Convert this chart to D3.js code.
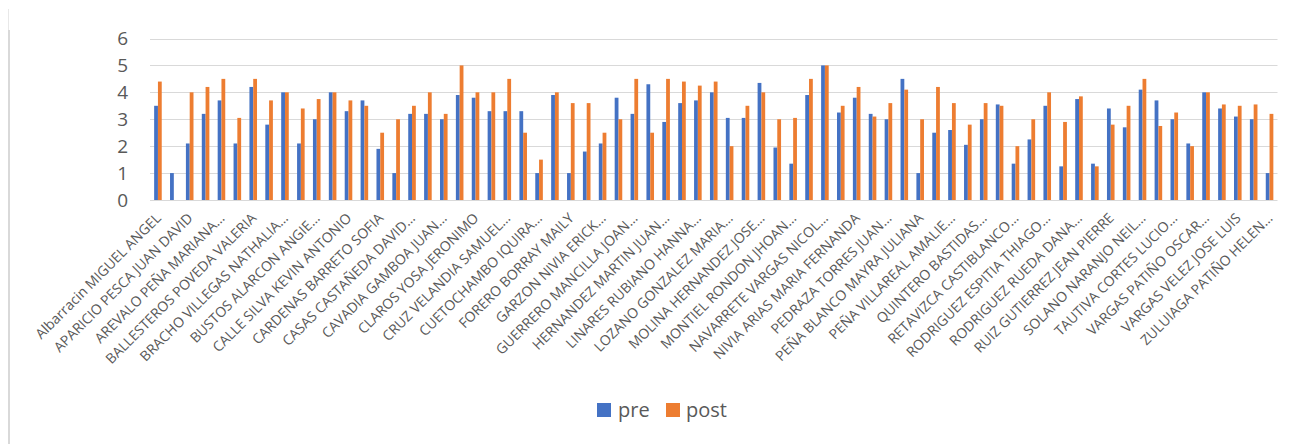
<!DOCTYPE html>
<html>
<head>
<meta charset="utf-8">
<script src="https://cdn.jsdelivr.net/npm/d3@7"></script>
<style>
  body { margin: 0; background: #fff; }
  text { font-family: "Open Sans", sans-serif; fill: #595959; }
</style>
</head>
<body>
<svg id="chart" width="1310" height="444"></svg>
<script>
// Student names shown on the axis (every other category carries a label)
const labels = [
  "Albarracin MIGUEL ANGEL", "APARICIO PESCA JUAN DAVID", "AREVALO PEÑA MARIANA…",
  "BALLESTEROS POVEDA VALERIA", "BRACHO VILLEGAS NATHALIA…", "BUSTOS ALARCON ANGIE…",
  "CALLE SILVA KEVIN ANTONIO", "CARDENAS BARRETO SOFIA", "CASAS CASTAÑEDA DAVID…",
  "CAVADIA GAMBOA JUAN…", "CLAROS YOSA JERONIMO", "CRUZ VELANDIA SAMUEL…",
  "CUETOCHAMBO IQUIRA…", "FORERO BORRAY MAILY", "GARZON NIVIA ERICK…",
  "GUERRERO MANCILLA JOAN…", "HERNANDEZ MARTIN JUAN…", "LINARES RUBIANO HANNA…",
  "LOZANO GONZALEZ MARIA…", "MOLINA HERNANDEZ JOSE…", "MONTIEL RONDON JHOAN…",
  "NAVARRETE VARGAS NICOL…", "NIVIA ARIAS MARIA FERNANDA", "PEDRAZA TORRES JUAN…",
  "PEÑA BLANCO MAYRA JULIANA", "PEÑA VILLAREAL AMALIE…", "QUINTERO BASTIDAS…",
  "RETAVIZCA CASTIBLANCO…", "RODRIGUEZ ESPITIA THIAGO…", "RODRIGUEZ RUEDA DANA…",
  "RUIZ GUTIERREZ JEAN PIERRE", "SOLANO NARANJO NEIL…", "TAUTIVA CORTES LUCIO…",
  "VARGAS PATIÑO OSCAR…", "VARGAS VELEZ JOSE LUIS", "ZULUIAGA PATIÑO HELEN…"
];

// Scores per student, in axis order (71 students)
const pre = [
  3.5, 1.0, 2.1, 3.2, 3.7, 2.1, 4.2, 2.8, 4.0, 2.1,
  3.0, 4.0, 3.3, 3.7, 1.9, 1.0, 3.2, 3.2, 3.0, 3.9,
  3.8, 3.3, 3.3, 3.3, 1.0, 3.9, 1.0, 1.8, 2.1, 3.8,
  3.2, 4.3, 2.9, 3.6, 3.7, 4.0, 3.05, 3.05, 4.35, 1.95,
  1.35, 3.9, 5.0, 3.25, 3.8, 3.2, 3.0, 4.5, 1.0, 2.5,
  2.6, 2.05, 3.0, 3.55, 1.35, 2.25, 3.5, 1.25, 3.75, 1.35,
  3.4, 2.7, 4.1, 3.7, 3.0, 2.1, 4.0, 3.4, 3.1, 3.0,
  1.0
];
const post = [
  4.4, 0, 4.0, 4.2, 4.5, 3.05, 4.5, 3.7, 4.0, 3.4,
  3.75, 4.0, 3.7, 3.5, 2.5, 3.0, 3.5, 4.0, 3.2, 5.0,
  4.0, 4.0, 4.5, 2.5, 1.5, 4.0, 3.6, 3.6, 2.5, 3.0,
  4.5, 2.5, 4.5, 4.4, 4.25, 4.4, 2.0, 3.5, 4.0, 3.0,
  3.05, 4.5, 5.0, 3.5, 4.2, 3.1, 3.6, 4.1, 3.0, 4.2,
  3.6, 2.8, 3.6, 3.5, 2.0, 3.0, 4.0, 2.9, 3.85, 1.25,
  2.8, 3.5, 4.5, 2.75, 3.25, 2.0, 4.0, 3.55, 3.5, 3.55,
  3.2
];

const seriesNames = ["pre", "post"];
const seriesColors = ["#4472C4", "#ED7D31"];
const yTicks = [0, 1, 2, 3, 4, 5, 6];

const svg = d3.select("#chart");
const plot = { left: 150, right: 1277.5, top: 38.5, bottom: 200 };

// Faint frame edge on the left of the chart area
svg.append("line")
  .attr("x1", 8.5).attr("x2", 8.5).attr("y1", 9).attr("y2", 30)
  .attr("stroke", "#e8e8e8").attr("stroke-width", 1);
svg.append("line")
  .attr("x1", 9).attr("x2", 9).attr("y1", 30).attr("y2", 444)
  .attr("stroke", "#d9d9d9").attr("stroke-width", 2);

const x = d3.scaleBand()
  .domain(d3.range(pre.length))
  .range([plot.left, plot.right]);

const y = d3.scaleLinear()
  .domain([0, 6])
  .range([plot.bottom, plot.top]);

// Bars use Excel-style gap width of 219%
const barW = x.bandwidth() / 4.19;
const xs = d3.scaleBand()
  .domain(seriesNames)
  .range([x.bandwidth() / 2 - barW, x.bandwidth() / 2 + barW]);

// Horizontal gridlines
svg.append("g")
  .selectAll("line")
  .data(yTicks)
  .join("line")
  .attr("x1", plot.left)
  .attr("x2", plot.right)
  .attr("y1", d => Math.round(y(d)) + 0.5)
  .attr("y2", d => Math.round(y(d)) + 0.5)
  .attr("stroke", "#d9d9d9")
  .attr("stroke-width", 1.2);

// Y axis labels
const yAxis = svg.append("g")
  .attr("transform", `translate(${plot.left},0)`)
  .call(d3.axisLeft(y).tickValues(yTicks).tickSize(0).tickPadding(22).tickFormat(d3.format("d")));
yAxis.select(".domain").remove();
yAxis.selectAll("text")
  .attr("font-size", 19)
  .attr("font-family", "Open Sans, sans-serif")
  .style("fill", "#595959");

// Bars
const data = pre.map((p, i) => ({ i, values: [{ key: "pre", v: p }, { key: "post", v: post[i] }] }));
const groups = svg.append("g")
  .selectAll("g")
  .data(data)
  .join("g")
  .attr("transform", d => `translate(${x(d.i)},0)`);

groups.selectAll("rect")
  .data(d => d.values)
  .join("rect")
  .attr("x", d => xs(d.key))
  .attr("width", xs.bandwidth())
  .attr("y", d => y(d.v))
  .attr("height", d => y(0) - y(d.v))
  .attr("fill", (d, k) => seriesColors[k]);

// X axis with rotated student names
const xAxis = svg.append("g")
  .attr("transform", `translate(0,${plot.bottom})`)
  .call(d3.axisBottom(x).tickSize(0).tickFormat(i => (i % 2 === 0 ? labels[i / 2] : "")));
xAxis.select(".domain").remove();
xAxis.selectAll("text")
  .attr("x", 0).attr("y", 0).attr("dy", 0)
  .attr("text-anchor", "end")
  .attr("transform", "translate(4,19) rotate(-45)")
  .attr("font-size", 14)
  .attr("font-family", "Open Sans, sans-serif")
  .style("fill", "#595959");

// Legend
const legend = svg.append("g");
const legendPos = [{ sx: 597, tx: 618 }, { sx: 666, tx: 686 }];
seriesNames.forEach((name, k) => {
  legend.append("rect")
    .attr("x", legendPos[k].sx).attr("y", 403)
    .attr("width", 14).attr("height", 14)
    .attr("fill", seriesColors[k]);
  legend.append("text")
    .attr("x", legendPos[k].tx).attr("y", 416.5)
    .attr("font-size", 20)
    .text(name);
});
</script>
</body>
</html>
